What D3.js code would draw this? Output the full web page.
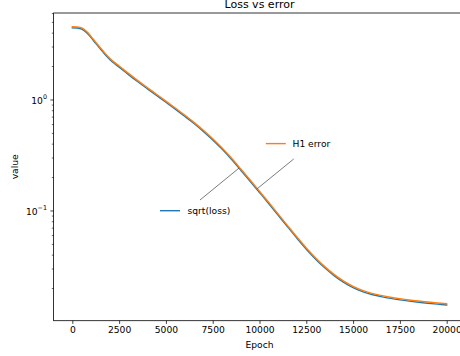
<!DOCTYPE html>
<html>
<head>
<meta charset="utf-8">
<script src="https://cdn.jsdelivr.net/npm/d3@7"></script>
<style>
  body { margin: 0; background: #fff; }
  svg { display: block; font-family: "DejaVu Sans", sans-serif; }
</style>
</head>
<body>
<svg id="chart" width="460" height="356"></svg>
<script>
// Training history: epoch vs. sqrt(loss) and H1 error
const epochs = [0, 250, 500, 750, 1000, 1250, 1500, 1750, 2000, 2250, 2500,
  3000, 3500, 4000, 4500, 5000, 5500, 6000, 6500, 7000, 7500,
  8000, 8500, 9000, 9500, 10000, 10500, 11000, 11500, 12000, 12500,
  13000, 13500, 14000, 14500, 15000, 15500, 16000, 16500, 17000, 17500,
  18000, 18500, 19000, 19500, 20000];

const sqrtLoss = [4.42, 4.40, 4.30, 4.02, 3.61, 3.20, 2.85, 2.538, 2.297, 2.106, 1.955,
  1.676, 1.444, 1.251, 1.086, 0.943, 0.818, 0.706, 0.6067, 0.516, 0.4324,
  0.3574, 0.2893, 0.2307, 0.1833, 0.1453, 0.1150, 0.0906, 0.0712, 0.0562, 0.04481,
  0.03642, 0.03028, 0.02576, 0.02251, 0.02020, 0.01860, 0.01750, 0.01676, 0.01615, 0.01565,
  0.01524, 0.01489, 0.01459, 0.01432, 0.01408];

const h1Error = [4.53, 4.51, 4.41, 4.12, 3.70, 3.28, 2.92, 2.602, 2.355, 2.159, 2.004,
  1.718, 1.480, 1.283, 1.114, 0.967, 0.838, 0.724, 0.622, 0.529, 0.4433,
  0.3664, 0.2966, 0.2365, 0.1879, 0.1489, 0.1179, 0.0928, 0.0730, 0.0576, 0.04594,
  0.03733, 0.03104, 0.02641, 0.02307, 0.02071, 0.01907, 0.01794, 0.01718, 0.01655, 0.01605,
  0.01562, 0.01527, 0.01496, 0.01468, 0.01444];

const seriesNames = ["sqrt(loss)", "H1 error"];
const seriesColors = ["#1f77b4", "#ff7f0e"];

const xTicks = [0, 2500, 5000, 7500, 10000, 12500, 15000, 17500, 20000];
const yMajorTicks = [0.1, 1];
const yMajorLabels = [["10", "\u22121"], ["10", "0"]];
const yMinorTicks = [0.02, 0.03, 0.04, 0.05, 0.06, 0.07, 0.08, 0.09,
  0.2, 0.3, 0.4, 0.5, 0.6, 0.7, 0.8, 0.9, 2, 3, 4, 5, 6];

// Epoch where each label's leader line meets its curve
const labelAnchors = [8905, 9883];

// ---- layout ----
const frame = { left: 53.6, right: 465.4, top: 13, bottom: 320.7 };
const tickFont = 9.17;

const svg = d3.select("#chart");

const x = d3.scaleLinear().domain([-1000, 21000]).range([frame.left, frame.right]);
const y = d3.scaleLog()
  .domain([Math.pow(10, -1.993), Math.pow(10, 0.779)])
  .range([frame.bottom, frame.top]);

// ---- curves ----
const line = d3.line()
  .x(d => x(d[0]))
  .y(d => y(d[1]))
  .curve(d3.curveCatmullRom.alpha(0.5));

const series = [sqrtLoss, h1Error].map(vals => epochs.map((e, i) => [e, vals[i]]));

series.forEach((pts, i) => {
  svg.append("path")
    .datum(pts)
    .attr("d", line)
    .attr("fill", "none")
    .attr("stroke", seriesColors[i])
    .attr("stroke-width", 1.4)
    .attr("stroke-linejoin", "round")
    .attr("stroke-linecap", "square");
});

// ---- axes ----
const xAxis = d3.axisBottom(x)
  .tickValues(xTicks)
  .tickFormat(d3.format("d"))
  .tickSize(3.2)
  .tickPadding(2.6);

const gx = svg.append("g")
  .attr("transform", `translate(0,${frame.bottom})`)
  .call(xAxis);
gx.select(".domain").remove();
gx.selectAll("line").attr("stroke", "#000").attr("stroke-width", 0.75);
gx.selectAll("text")
  .attr("font-size", tickFont)
  .attr("font-family", "DejaVu Sans")
  .attr("fill", "#000");

const yMinorAxis = d3.axisLeft(y)
  .tickValues(yMinorTicks.filter(v => v >= y.domain()[0] && v <= y.domain()[1]))
  .tickFormat("")
  .tickSize(1.8);
const gyMinor = svg.append("g")
  .attr("transform", `translate(${frame.left},0)`)
  .call(yMinorAxis);
gyMinor.select(".domain").remove();
gyMinor.selectAll("line").attr("stroke", "#000").attr("stroke-width", 0.6);

const yMajorAxis = d3.axisLeft(y)
  .tickValues(yMajorTicks)
  .tickFormat("")
  .tickSize(3.2);
const gyMajor = svg.append("g")
  .attr("transform", `translate(${frame.left},0)`)
  .call(yMajorAxis);
gyMajor.select(".domain").remove();
gyMajor.selectAll("line").attr("stroke", "#000").attr("stroke-width", 0.75);

// power-of-ten labels with superscript exponents
yMajorTicks.forEach((v, i) => {
  const t = svg.append("text")
    .attr("x", frame.left - 6.6)
    .attr("y", y(v) + 4.2)
    .attr("text-anchor", "end")
    .attr("font-size", tickFont)
    .attr("fill", "#000");
  t.append("tspan").text(yMajorLabels[i][0]);
  t.append("tspan")
    .attr("dy", -4.2)
    .attr("font-size", tickFont * 0.7)
    .text(yMajorLabels[i][1]);
});

// frame
svg.append("rect")
  .attr("x", frame.left).attr("y", frame.top)
  .attr("width", frame.right - frame.left)
  .attr("height", frame.bottom - frame.top)
  .attr("fill", "none")
  .attr("stroke", "#000")
  .attr("stroke-width", 0.8);

// ---- titles ----
const midX = (frame.left + frame.right) / 2;
svg.append("text")
  .attr("x", midX).attr("y", 7.6)
  .attr("text-anchor", "middle")
  .attr("font-size", 11)
  .text("Loss vs error");

svg.append("text")
  .attr("x", midX).attr("y", 348.3)
  .attr("text-anchor", "middle")
  .attr("font-size", tickFont)
  .text("Epoch");

svg.append("text")
  .attr("transform", `translate(18.4,${(frame.top + frame.bottom) / 2}) rotate(-90)`)
  .attr("text-anchor", "middle")
  .attr("font-size", tickFont)
  .text("value");

// ---- inline labels with leader lines ----
function valueAt(vals, e) {
  const i = d3.bisectRight(epochs, e) - 1;
  const t = (e - epochs[i]) / (epochs[i + 1] - epochs[i]);
  const a = Math.log10(vals[i]), b = Math.log10(vals[i + 1]);
  return Math.pow(10, a + t * (b - a));
}

const labelLayout = [
  { hx: 160, hy: 210.7, tx: 187.5, lx: 200, ly: 200 },
  { hx: 265.8, hy: 143.6, tx: 292.5, lx: 293.7, ly: 159 }
];

[sqrtLoss, h1Error].forEach((vals, i) => {
  const L = labelLayout[i];
  const ax = x(labelAnchors[i]);
  const ay = y(valueAt(vals, labelAnchors[i]));
  svg.append("line")
    .attr("x1", L.lx).attr("y1", L.ly)
    .attr("x2", ax).attr("y2", ay)
    .attr("stroke", "#222")
    .attr("stroke-width", 0.6);
  svg.append("line")
    .attr("x1", L.hx).attr("y1", L.hy)
    .attr("x2", L.hx + 20).attr("y2", L.hy)
    .attr("stroke", seriesColors[i])
    .attr("stroke-width", 1.4);
  svg.append("text")
    .attr("x", L.tx).attr("y", L.hy + 3.3)
    .attr("font-size", tickFont)
    .attr("fill", "#000")
    .text(seriesNames[i]);
});
</script>
</body>
</html>
